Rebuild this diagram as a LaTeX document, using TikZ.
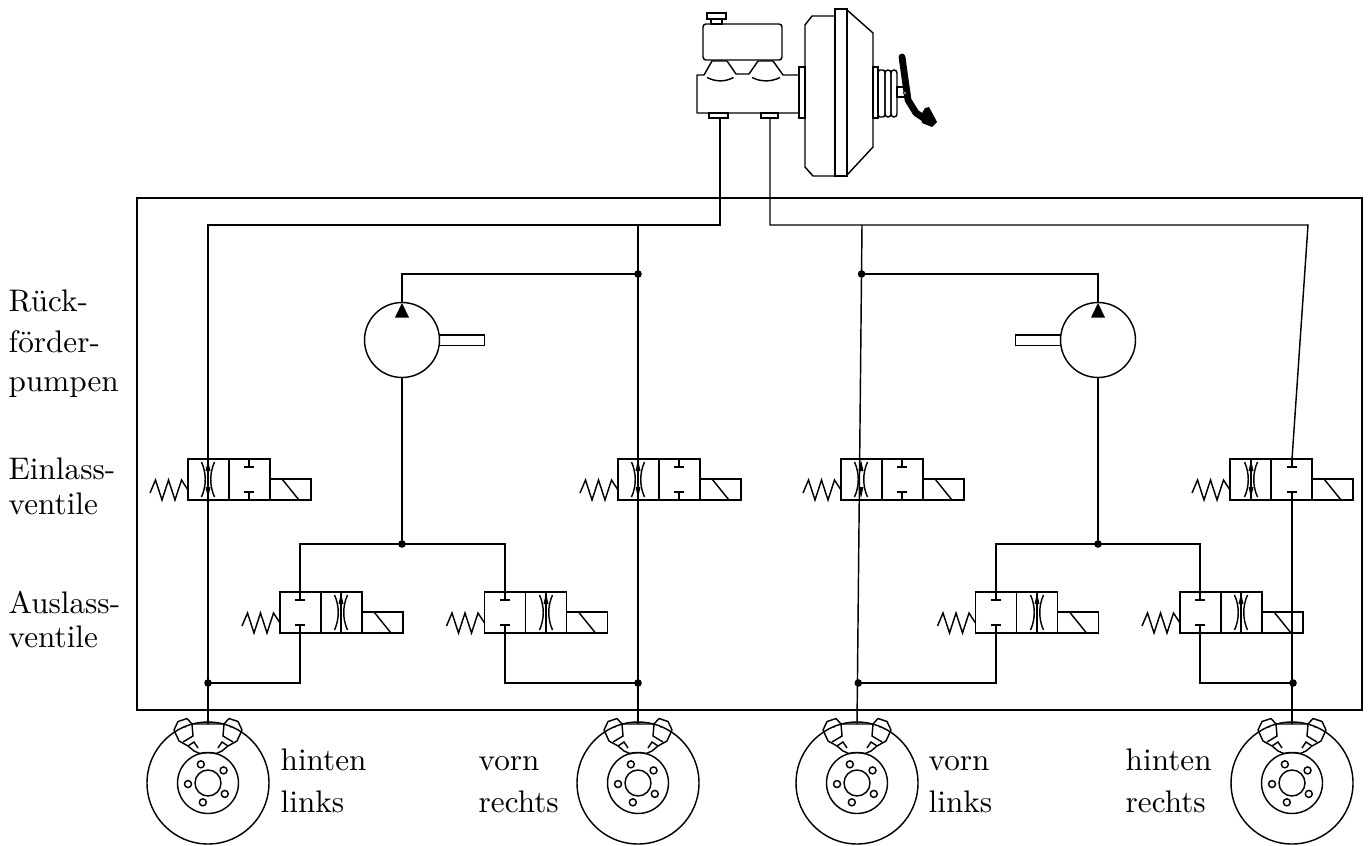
\documentclass[tikz,border=0pt]{standalone}
\usepackage{fontspec}
\setmainfont{lmroman10-regular.otf}
\begin{document}
% valve housing: two cells, solenoid, return spring (#1 = left edge, #2 = top edge)
\newcommand{\hvValveBody}[2]{%
  \draw (#1,#2) rectangle ++(82,41);
  \draw (#1+41,#2) -- ++(0,41);
  \draw (#1+82,#2+20) rectangle ++(41,21);
  \draw (#1+94,#2+20) -- (#1+111,#2+41);
  \draw[line join=miter] (#1-38,#2+34) -- (#1-32.5,#2+21) -- (#1-26,#2+41) -- (#1-19.5,#2+21)
     -- (#1-13,#2+41) -- (#1-6.5,#2+21) -- (#1,#2+31);
}
% throttle arcs (#1 = centre x, #2 = top edge)
\newcommand{\hvThrottle}[2]{%
  \draw (#1-6.5,#2+3) .. controls (#1-1.5,#2+14) and (#1-1.5,#2+27) .. (#1-6.5,#2+38);
  \draw (#1+6.5,#2+3) .. controls (#1+1.5,#2+14) and (#1+1.5,#2+27) .. (#1+6.5,#2+38);
}
\newcommand{\hvFlowUp}[2]{\fill (#1,#2+1) -- (#1-2.5,#2+12) -- (#1+2.5,#2+12) -- cycle;}
\newcommand{\hvFlowDown}[2]{\fill (#1,#2+39) -- (#1-2.5,#2+28) -- (#1+2.5,#2+28) -- cycle;}
% blocked passage
\newcommand{\hvBlocked}[2]{%
  \draw (#1,#2) -- (#1,#2+8) (#1-4.7,#2+8) -- (#1+4.7,#2+8)
        (#1-4.7,#2+33) -- (#1+4.7,#2+33) (#1,#2+33) -- (#1,#2+41);
}
% brake disc with caliper (#1 = centre x)
\newcommand{\hvBrake}[1]{%
  \draw (#1,783) circle[radius=61];
  \draw (#1,783) circle[radius=30.5];
  \draw (#1,783) circle[radius=13];
  \foreach \a in {111,39,-33,-105,183}
    \draw ({#1+20*cos(\a)},{783-20*sin(\a)}) circle[radius=3.5];
  \draw[line join=round] (#1-16,724) -- (#1-21,718.5) -- (#1-30,721.5) -- (#1-34,730) -- (#1-29,741)
     -- (#1-20,746) -- (#1-14,751) -- (#1-8,753.6)
     .. controls (#1-3,752.4) and (#1+3,752.4) .. (#1+8,753.6)
     -- (#1+14,751) -- (#1+20,746) -- (#1+29,741) -- (#1+34,730) -- (#1+30,721.5)
     -- (#1+21,718.5) -- (#1+16,724) -- cycle;
  \draw (#1-16,724) -- (#1-15,736) -- (#1-25,742);
  \draw (#1+16,724) -- (#1+15,736) -- (#1+25,742);
  \draw (#1-20,746) -- (#1-14,742) -- (#1-10,748);
  \draw (#1+20,746) -- (#1+14,742) -- (#1+10,748);
  \fill (#1-23,727) circle[radius=0.9];
  \fill (#1+23,727) circle[radius=0.9];
}
\begin{tikzpicture}[x=0.5pt,y=-0.5pt,line width=0.72pt,
  joint/.style={circle,fill,inner sep=0pt,minimum size=3.8pt},
  lbl/.style={anchor=base west,inner sep=0pt,font=\fontsize{15.6pt}{20pt}\selectfont}]
\useasboundingbox (0,0) rectangle (1369,845);

% control unit housing
\draw (137,198) rectangle (1362,710);

% ---------- master cylinder with reservoir ----------
\draw (707,13) rectangle (726,19);
\draw (711,19) rectangle (722,24);
\draw[rounded corners=1.5pt] (703,24) rectangle (782,60);
\draw[line join=round] (697,75) -- (704,75) -- (712,61) -- (727,61) -- (736,74) -- (749,74)
   -- (758,61) -- (773,61) -- (783,75) -- (799,75) -- (799,113) -- (697,113) -- cycle;
\draw (707,77.5) .. controls (716,82) and (725,82) .. (733.5,77.5);
\draw (752,77.5) .. controls (761,82) and (771,82) .. (780,77.5);
\draw (709,113) rectangle (728,118);
\draw (761,113) rectangle (778,118);
\coordinate (mcL) at (720,118);
\coordinate (mcR) at (770,118);
% brake booster
\draw (799,67) rectangle (805,118);
\draw (805,25) -- (812,16) -- (835,16) -- (835,176) -- (813,176) -- (805,167) -- cycle;
\draw (835,9) rectangle (847,176);
\draw (847,10) -- (873,33) -- (873,147) -- (847,175);
\draw (873,67) rectangle (878,118);
\draw[rounded corners=1.2pt] (878,70) rectangle (885,117);
\draw[rounded corners=1.5pt] (885,70) rectangle (891,117);
\draw[rounded corners=1.5pt] (891,70) rectangle (897,117);
\draw (897,87) rectangle (906,97);
% pedal
\draw[line width=3.4pt,line cap=round,line join=round] (902,57) -- (908,100) -- (916,113) -- (925,119);
\fill (921,115) -- (925,108) -- (929,107) -- (937,122) -- (932,127) -- (922,123) -- cycle;
\filldraw[fill=white,line width=0.4pt] (905,93) circle[radius=1.6];

% ---------- valves ----------
% inlet valves
\hvValveBody{188}{459}  \hvThrottle{208}{459}  \hvFlowUp{208}{459}  \hvFlowDown{208}{459}  \hvBlocked{249}{459}
\hvValveBody{618}{459}  \hvThrottle{638}{459}  \hvFlowUp{638}{459}  \hvFlowDown{638}{459}  \hvBlocked{679}{459}
\hvValveBody{841}{459}  \hvThrottle{861}{459}  \hvFlowUp{861}{459}  \hvFlowDown{861}{459}  \hvBlocked{902}{459}
\hvValveBody{1230}{459} \hvThrottle{1251}{459} \hvFlowUp{1251}{459} \hvFlowDown{1251}{459} \hvBlocked{1292}{459}
\draw (1251,459) -- (1251,500);
% outlet valves
\hvValveBody{280}{592}  \hvBlocked{300}{592}  \hvThrottle{341}{592}  \hvFlowUp{341}{592}  \draw (341,592) -- (341,633);
\hvValveBody{484.5}{592} \hvBlocked{505}{592} \hvThrottle{546}{592}  \hvFlowUp{546}{592}  \draw (546,592) -- (546,633);
\hvValveBody{975.5}{592} \hvBlocked{996}{592} \hvThrottle{1037}{592} \hvFlowUp{1037}{592} \draw (1037,592) -- (1037,633);
\hvValveBody{1180}{592} \hvBlocked{1200}{592} \hvThrottle{1241}{592} \hvFlowUp{1241}{592} \draw (1241,592) -- (1241,633);

% ---------- return pumps ----------
\node[circle,draw,inner sep=0pt,minimum size=37.5pt] (pumpL) at (402,340) {};
\node[circle,draw,inner sep=0pt,minimum size=37.5pt] (pumpR) at (1098,340) {};
\fill (402,303) -- (395,317.5) -- (409,317.5) -- cycle;
\fill (1098,303) -- (1091,317.5) -- (1105,317.5) -- cycle;
\draw (439.5,335) rectangle (484.5,345.5);
\draw (1015.5,335) rectangle (1060.5,345.5);

% ---------- junctions ----------
\node[joint] (jL1) at (638,274) {};
\node[joint] (jL2) at (402,544) {};
\node[joint] (jL3) at (208,683) {};
\node[joint] (jL4) at (638,683) {};
\node[joint] (jR1) at (861.6,274) {};
\node[joint] (jR2) at (1098,544) {};
\node[joint] (jR3) at (858.3,683) {};
\node[joint] (jR4) at (1293,683) {};
\coordinate (wHL) at (208,724);
\coordinate (wVR) at (638,724);
\coordinate (wVL) at (857,724);
\coordinate (wHR) at (1292,724);

% ---------- brake lines ----------
% circuit 1
\draw (mcL) -- (720,225) -- (208,225) -- (wHL);
\draw (638,225) -- (wVR);
\draw (jL1.center) -- (402,274) -- (pumpL.north);
\draw (pumpL.south) -- (jL2.center);
\draw (300,592) -- (300,544) -- (505,544) -- (505,592);
\draw (300,633) -- (300,683) -- (jL3.center);
\draw (505,633) -- (505,683) -- (jL4.center);
% circuit 2
\draw (mcR) -- (770,225) -- (1308,225) -- (1292,459);
\draw (1292,500) -- (wHR);
\draw (862,225) -- (wVL);
\draw (jR1.center) -- (1098,274) -- (pumpR.north);
\draw (pumpR.south) -- (jR2.center);
\draw (996,592) -- (996,544) -- (1200,544) -- (1200,592);
\draw (996,633) -- (996,683) -- (jR3.center);
\draw (1200,633) -- (1200,683) -- (jR4.center);

% ---------- wheel brakes ----------
\hvBrake{208}
\hvBrake{638}
\hvBrake{857}
\hvBrake{1292}

% ---------- labels ----------
\node[lbl] (t1) at (8,311) {Rück-};
\node[lbl] (t2) at (8,352) {förder-};
\node[lbl] (t3) at (8,391) {pumpen};
\node[lbl] (t4) at (8,479) {Einlass-};
\node[lbl] (t5) at (8,514) {ventile};
\node[lbl] (t6) at (8,613) {Auslass-};
\node[lbl] (t7) at (8,647) {ventile};
\node[lbl] (w1) at (280,770) {hinten};
\node[lbl] (w2) at (280,812) {links};
\node[lbl] (w3) at (478,770) {vorn};
\node[lbl] (w4) at (478,812) {rechts};
\node[lbl] (w5) at (928,770) {vorn};
\node[lbl] (w6) at (928,812) {links};
\node[lbl] (w7) at (1125,770) {hinten};
\node[lbl] (w8) at (1125,812) {rechts};
\end{tikzpicture}
\end{document}
